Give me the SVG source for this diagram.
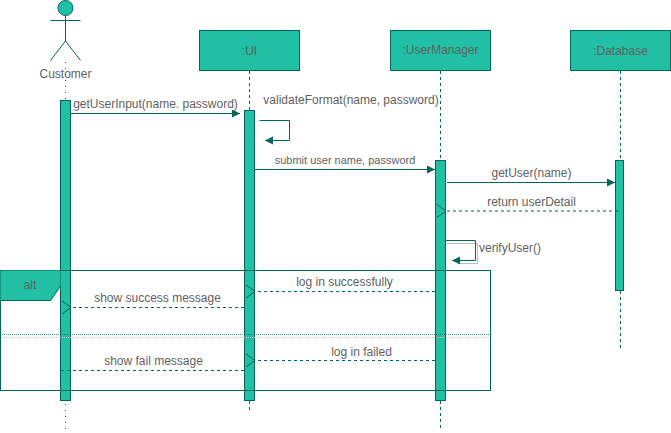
<svg xmlns="http://www.w3.org/2000/svg" width="671" height="433" viewBox="0 0 671 433">
<style>
text{font-family:"Liberation Sans",Arial,sans-serif;font-size:12px;fill:#5f5f5f;text-anchor:middle}
.box{fill:#21c0a5;stroke:#006658;stroke-width:1}
.ln{fill:none;stroke:#006658;stroke-width:1}
.dash{fill:none;stroke:#006658;stroke-width:1;stroke-dasharray:3 3}
.dot{fill:none;stroke:#006658;stroke-width:1;stroke-dasharray:1 5}
.s11{font-size:11px}
</style>
<defs>
<marker id="solid" markerUnits="userSpaceOnUse" markerWidth="10" markerHeight="10" refX="8" refY="4" orient="auto"><path d="M0 0L8 4L0 8Z" fill="#006658"/></marker>
<marker id="open" markerUnits="userSpaceOnUse" markerWidth="12" markerHeight="14" refX="1" refY="6.5" orient="auto"><path d="M10 0L1 6.5L10 13" fill="none" stroke="#006658"/></marker>
</defs>
<g id="lifelines">
<path class="dot" d="M65.500 62V100M65.500 404V432"/>
<path class="dash" d="M249.500 71V110M249.500 401V410"/>
<path class="dash" d="M440.500 71V160M440.500 401V428"/>
<path class="dash" d="M620.500 71V160M620.500 291V350"/>
</g>
<g id="customer">
<circle class="box" cx="65.500" cy="8" r="7.500"/>
<path class="ln" d="M65.500 16V41M50.500 20.500H80.500M65.500 41L50.500 60.500M65.500 41L80.500 60.500"/>
<text x="65.500" y="78">Customer</text>
<rect class="box" x="60.500" y="100.500" width="10" height="300"/>
</g>
<g id="ui">
<rect class="box" x="199.500" y="30.500" width="100" height="40"/>
<text x="249.500" y="55">:UI</text>
<rect class="box" x="244.500" y="110.500" width="10" height="290"/>
</g>
<g id="usermanager">
<rect class="box" x="390.500" y="30.500" width="100" height="40"/>
<text x="440.500" y="54">:UserManager</text>
<rect class="box" x="435.500" y="160.500" width="10" height="240"/>
</g>
<g id="database">
<rect class="box" x="570.500" y="30.500" width="100" height="40"/>
<text x="620.500" y="55">:Database</text>
<rect class="box" x="615.500" y="160.500" width="8" height="130"/>
</g>
<g id="alt-frame">
<rect x="0.500" y="270.500" width="490" height="120" fill="none" stroke="#006658"/>
<path class="box" d="M0.500 270.500H60.500V286L50.500 300.500H0.500Z" style="stroke:none"/>
<path class="ln" d="M60.500 286L50.500 300.500H0.500"/>
<text x="30" y="289">alt</text>
<path d="M0 334.500H490" fill="none" stroke="#006658" stroke-dasharray="1 1" opacity=".7"/>
<path d="M2 337.500H490" fill="none" stroke="#c8c8c8" stroke-dasharray="1 1"/>
</g>
<g id="connectors">
<path class="ln" d="M71 113.500H240" marker-end="url(#solid)"/>
<path class="ln" d="M259.500 120.500H289.500V140.500H265" marker-end="url(#solid)"/>
<path class="ln" d="M255 169.500H435" marker-end="url(#solid)"/>
<path class="ln" d="M447 182.500H615" marker-end="url(#solid)"/>
<path class="dash" d="M618 211H446" marker-end="url(#open)"/>
<path d="M447 243.500H477.500V263.500H460" fill="none" stroke="#bdbdbd"/>
<path class="ln" d="M446 240.500H475.500V260.500H452" marker-end="url(#solid)"/>
<path class="dash" d="M435 291.500H255" marker-end="url(#open)"/>
<path class="dash" d="M244 307.500H71" marker-end="url(#open)"/>
<path class="dash" d="M435 360.500H255" marker-end="url(#open)"/>
<path class="dash" d="M244 370.500H59"/>
</g>
<g id="labels">
<text x="155.500" y="108">getUserInput(name. password)</text>
<text x="351" y="104">validateFormat(name, password)</text>
<text class="s11" x="345" y="164">submit user name, password</text>
<text x="531.500" y="177">getUser(name)</text>
<text x="531.500" y="206">return userDetail</text>
<text x="510" y="252">verifyUser()</text>
<text x="344.500" y="286">log in successfully</text>
<text x="157.500" y="302">show success message</text>
<text x="361.500" y="356">log in failed</text>
<text x="153.500" y="365">show fail message</text>
</g>
</svg>
